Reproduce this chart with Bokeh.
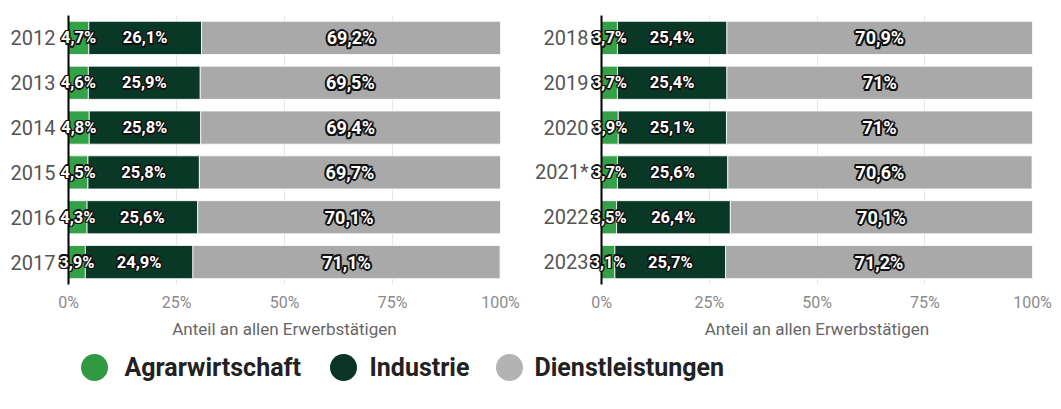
import numpy as np
from bokeh.plotting import figure
from bokeh.models import ColumnDataSource, FactorRange, Range1d, FixedTicker
from bokeh.layouts import column, row
from bokeh.core.properties import value
from bokeh.embed import file_html
from bokeh.resources import INLINE

# ---- data ----
years_left = ["2012", "2013", "2014", "2015", "2016", "2017"]
agrar_left = [4.7, 4.6, 4.8, 4.5, 4.3, 3.9]
industrie_left = [26.1, 25.9, 25.8, 25.8, 25.6, 24.9]
dienst_left = [69.2, 69.5, 69.4, 69.7, 70.1, 71.1]

years_right = ["2018", "2019", "2020", "2021*", "2022", "2023"]
agrar_right = [3.7, 3.7, 3.9, 3.7, 3.5, 3.1]
industrie_right = [25.4, 25.4, 25.1, 25.6, 26.4, 25.7]
dienst_right = [70.9, 71.0, 71.0, 70.6, 70.1, 71.2]

series_names = ["Agrarwirtschaft", "Industrie", "Dienstleistungen"]
series_colors = ["#34a047", "#0a3826", "#a9a9a9"]
legend_colors = ["#2f9a42", "#0a3526", "#b3b3b3"]
x_ticks = [0, 25, 50, 75, 100]
x_tick_labels = ["0%", "25%", "50%", "75%", "100%"]
axis_title = "Anteil an allen Erwerbstätigen"

FONT = "Roboto"


def fmt(v):
    s = f"{v:.1f}"
    if s.endswith(".0"):
        s = s[:-2]
    return s.replace(".", ",") + "%"


def halo_text(p, src, offsets, size, style="bold"):
    for dx, dy in offsets:
        p.text(x="x", y="y", text="t", source=src, text_align="center",
               text_baseline="middle", text_color="#111111",
               text_font=value(FONT), text_font_style=style,
               text_font_size=size, x_offset=dx, y_offset=dy, level="overlay")
    p.text(x="x", y="y", text="t", source=src, text_align="center",
           text_baseline="middle", text_color="white",
           text_font=value(FONT), text_font_style=style,
           text_font_size=size, level="overlay")


def make_panel(years, agrar, ind, dienst, border_left, frame_w, border_right):
    p = figure(y_range=FactorRange(factors=list(reversed(years))),
               x_range=Range1d(0, 100),
               frame_width=frame_w, frame_height=269,
               min_border_left=border_left, min_border_right=border_right,
               min_border_top=15, min_border_bottom=64,
               output_backend="svg", toolbar_location=None)
    src = ColumnDataSource(dict(year=years, a=agrar, i=ind, d=dienst))
    p.hbar_stack(["a", "i", "d"], y="year", height=0.74, color=series_colors,
                 line_color="white", line_width=0.8, source=src)

    a = np.array(agrar)
    i = np.array(ind)
    d = np.array(dienst)
    small = ColumnDataSource(dict(
        x=list(a / 2) + list(a + i / 2),
        y=list(years) * 2,
        t=[fmt(v) for v in agrar] + [fmt(v) for v in ind]))
    big = ColumnDataSource(dict(
        x=list(a + i + d / 2), y=list(years), t=[fmt(v) for v in dienst]))
    o1 = [(-1.5, 0), (1.5, 0), (0, -1.5), (0, 1.5), (-1.1, -1.1), (1.1, 1.1), (-1.1, 1.1), (1.1, -1.1)]
    o2 = [(-2, 0), (2, 0), (0, -2), (0, 2), (-1.5, -1.5), (1.5, 1.5), (-1.5, 1.5), (1.5, -1.5)]
    halo_text(p, small, o1, "16.5px")
    halo_text(p, big, o2, "18px")

    p.xaxis.ticker = FixedTicker(ticks=x_ticks)
    p.xaxis.major_label_overrides = {t: l for t, l in zip(x_ticks, x_tick_labels)}
    p.xaxis.axis_line_color = None
    p.xaxis.major_tick_line_color = None
    p.xaxis.minor_tick_line_color = None
    p.xaxis.major_tick_out = 0
    p.xaxis.major_tick_in = 0
    p.xaxis.major_label_standoff = 8
    p.xaxis.major_label_text_font = FONT
    p.xaxis.major_label_text_font_size = "16px"
    p.xaxis.major_label_text_color = "#8a8a8a"
    p.xaxis.axis_label = axis_title
    p.xaxis.axis_label_text_font = FONT
    p.xaxis.axis_label_text_font_style = "normal"
    p.xaxis.axis_label_text_font_size = "17px"
    p.xaxis.axis_label_text_color = "#666666"
    p.xaxis.axis_label_standoff = 4

    p.yaxis.axis_line_color = "black"
    p.yaxis.axis_line_width = 2
    p.yaxis.major_tick_line_color = None
    p.yaxis.minor_tick_line_color = None
    p.yaxis.major_tick_out = 0
    p.yaxis.major_tick_in = 0
    p.yaxis.major_label_standoff = 13
    p.yaxis.major_label_text_font = FONT
    p.yaxis.major_label_text_font_size = "20px"
    p.yaxis.major_label_text_color = "#555555"

    p.ygrid.grid_line_color = None
    p.xgrid.grid_line_color = "#e6e6e6"
    p.outline_line_color = None
    p.background_fill_color = "white"
    return p


p1 = make_panel(years_left, agrar_left, industrie_left, dienst_left, 68, 432, 28)
p2 = make_panel(years_right, agrar_right, industrie_right, dienst_right, 73, 431, 21)

# ---- legend ----
leg = figure(width=1053, height=50, x_range=Range1d(0, 1053), y_range=Range1d(0, 50),
             min_border=0, x_axis_type=None, y_axis_type=None,
             output_backend="svg", toolbar_location=None)
leg.grid.grid_line_color = None
leg.outline_line_color = None
circle_x = [94, 343, 509]
text_x = [124, 369, 534]
leg_y = 31
lsrc = ColumnDataSource(dict(cx=circle_x, tx=text_x, y=[leg_y] * 3,
                             c=legend_colors, t=series_names))
leg.scatter(x="cx", y="y", size=27, color="c", line_color=None, source=lsrc)
leg.text(x="tx", y="y", text="t", source=lsrc, text_align="left",
         text_baseline="middle", text_font=value(FONT), text_font_style="bold",
         text_font_size="25px", text_color="#222222")

layout = column(row(p1, p2), leg)
open("out.html", "w").write(file_html(layout, INLINE))
